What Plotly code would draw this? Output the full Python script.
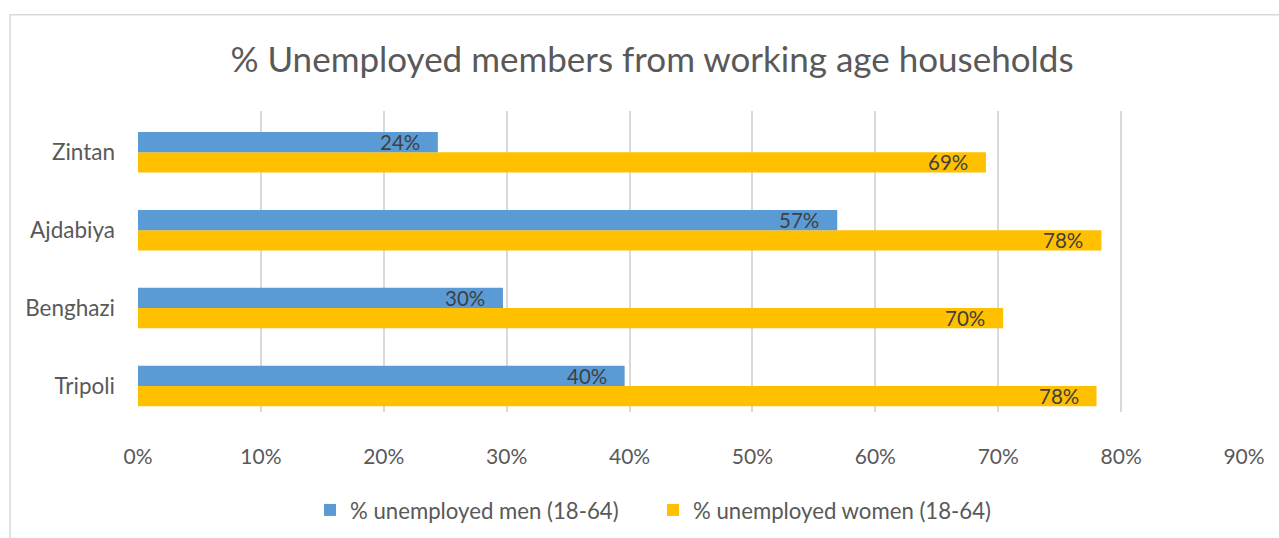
import plotly.graph_objects as go

# Cities, listed bottom-to-top on the category axis
cities = ["Tripoli", "Benghazi", "Ajdabiya", "Zintan"]

# Share of working-age household members who are unemployed
men_unemployed = [0.396, 0.297, 0.569, 0.244]
women_unemployed = [0.780, 0.704, 0.784, 0.690]

x_ticks = [0, 0.1, 0.2, 0.3, 0.4, 0.5, 0.6, 0.7, 0.8, 0.9]

title_text = "% Unemployed members from working age households"
men_name = "% unemployed men (18-64)"
women_name = "% unemployed women (18-64)"

BLUE = "#5B9BD5"
GOLD = "#FFC000"
GRAY_TEXT = "#595959"
LABEL_TEXT = "#404040"
GRID = "#D9D9D9"
FONT = "Lato, 'Open Sans', sans-serif"

W, H = 1279, 538
M_L, M_R, M_T, M_B = 138, 35, 111, 126

fig = go.Figure()

# Women first so that, in each group, the men's bar sits above
fig.add_trace(go.Bar(
    y=cities, x=women_unemployed, orientation="h", name=women_name,
    marker=dict(color=GOLD, line=dict(width=0)), legendrank=2,
    hoverinfo="x+y",
))
fig.add_trace(go.Bar(
    y=cities, x=men_unemployed, orientation="h", name=men_name,
    marker=dict(color=BLUE, line=dict(width=0)), legendrank=1,
    hoverinfo="x+y",
))

# Value labels, right-aligned just inside the end of each bar
annotations = []
for vals, shift in ((men_unemployed, 10), (women_unemployed, -10)):
    for city, v in zip(cities, vals):
        annotations.append(dict(
            x=v, y=city, xref="x", yref="y",
            text=f"{round(v * 100)}%", showarrow=False,
            xanchor="right", yanchor="middle", xshift=-16, yshift=shift,
            font=dict(family=FONT, size=20.5, color=LABEL_TEXT),
        ))

plot_w = W - M_L - M_R
plot_h = H - M_T - M_B

# Light chart-area frame
frame = dict(
    type="rect", xref="paper", yref="paper", layer="below",
    x0=(10 - M_L) / plot_w, x1=(W + 20 - M_L) / plot_w,
    y0=(H - M_B - (H + 20)) / plot_h, y1=(H - M_B - 14.7) / plot_h,
    line=dict(color=GRID, width=1.5), fillcolor="rgba(0,0,0,0)",
)

fig.update_layout(
    width=W, height=H,
    margin=dict(l=M_L, r=M_R, t=M_T, b=M_B, autoexpand=False),
    paper_bgcolor="white", plot_bgcolor="white",
    font=dict(family=FONT, color=GRAY_TEXT, size=21),
    title=dict(
        text=title_text, xref="container", yref="container",
        x=652 / W, y=1 - 60 / H, xanchor="center", yanchor="middle",
        font=dict(family=FONT, size=35, color=GRAY_TEXT),
    ),
    barmode="group", bargap=0.481, bargroupgap=0,
    xaxis=dict(
        range=[0, 0.9], tickvals=x_ticks, tickformat=".0%",
        showgrid=True, gridcolor=GRID, gridwidth=1.5,
        zeroline=False, showline=False, ticks="",
        ticklabelstandoff=30,
        tickfont=dict(family=FONT, size=21, color=GRAY_TEXT),
    ),
    yaxis=dict(
        type="category", categoryorder="array", categoryarray=cities,
        range=[-0.334, 3.53], showgrid=False, zeroline=False,
        showline=False, ticks="", ticklabelstandoff=22,
        tickfont=dict(family=FONT, size=22.5, color=GRAY_TEXT),
    ),
    legend=dict(
        orientation="h", xref="paper", yref="paper",
        x=(653 - M_L) / plot_w, y=(H - M_B - 510) / plot_h,
        xanchor="center", yanchor="middle",
        font=dict(family=FONT, size=22.2, color=GRAY_TEXT),
        itemwidth=30, traceorder="normal",
        entrywidth=298, entrywidthmode="pixels",
    ),
    annotations=annotations,
    shapes=[frame],
)

fig.write_html("out.html")
